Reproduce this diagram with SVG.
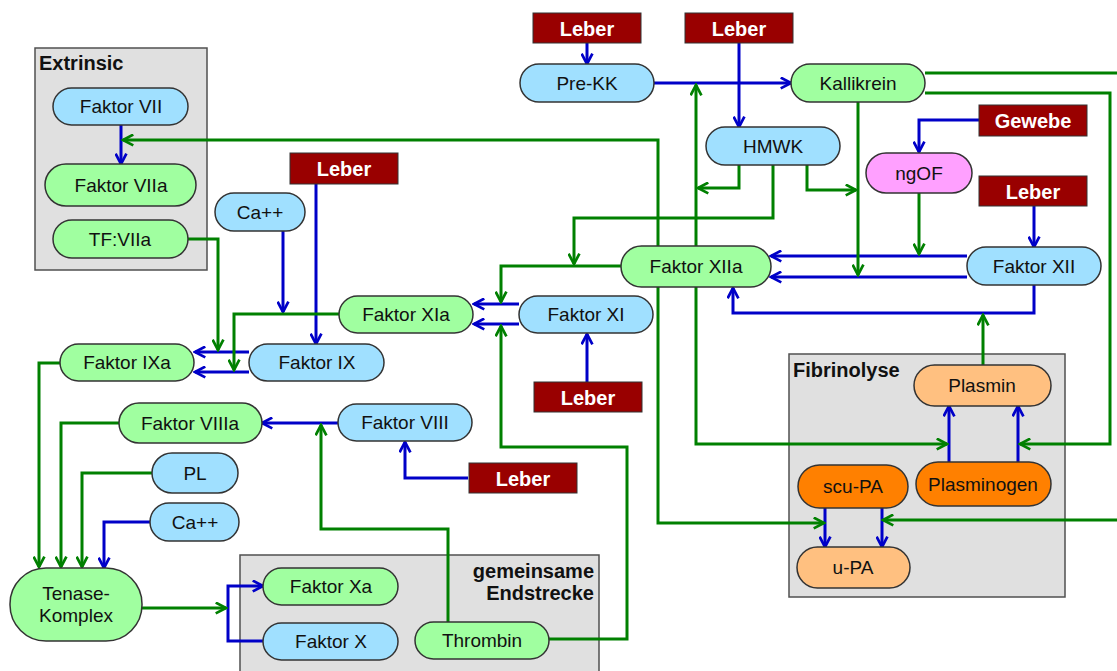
<svg xmlns="http://www.w3.org/2000/svg" width="1117" height="671" viewBox="0 0 1117 671">
<style>
text{font-family:"Liberation Sans",Arial,sans-serif;font-size:19px;fill:#111;text-anchor:middle}
.t{font-weight:bold;font-size:20px;text-anchor:start}
.te{font-weight:bold;font-size:20px;text-anchor:end}
.lb{font-weight:bold;font-size:20px;fill:#fff}
.grp{fill:#e0e0e0;stroke:#505050;stroke-width:1.5}
.n{stroke:#333;stroke-width:1.5}
.b{fill:#a0e0ff}.g{fill:#a0ffa0}.o{fill:#ffc080}.d{fill:#ff8000}.p{fill:#ffa0ff}
.lv{fill:#990000;stroke:#333;stroke-width:1}
.cb{fill:none;stroke:#0000c8;stroke-width:3;marker-end:url(#ab)}
.cg{fill:none;stroke:#008000;stroke-width:3;marker-end:url(#ag)}
.cgn{fill:none;stroke:#008000;stroke-width:3}
</style>
<defs>
<marker id="ab" viewBox="0 0 12 12" refX="10.5" refY="6" markerWidth="13" markerHeight="13" markerUnits="userSpaceOnUse" orient="auto"><path d="M1,1 L10.5,6 L1,11" fill="none" stroke="#0000c8" stroke-width="2.5"/></marker>
<marker id="ag" viewBox="0 0 12 12" refX="10.5" refY="6" markerWidth="13" markerHeight="13" markerUnits="userSpaceOnUse" orient="auto"><path d="M1,1 L10.5,6 L1,11" fill="none" stroke="#008000" stroke-width="2.5"/></marker>
</defs>
<rect width="1117" height="671" fill="#fff"/>
<g id="group-extrinsic"><rect class="grp" x="35" y="48" width="172" height="222"/><text class="t" x="39" y="70">Extrinsic</text></g>
<g id="group-fibrinolyse"><rect class="grp" x="789" y="354" width="276" height="243"/><text class="t" x="793" y="377">Fibrinolyse</text></g>
<g id="group-endstrecke"><rect class="grp" x="240" y="555" width="359" height="130"/><text class="te" x="594" y="578">gemeinsame</text><text class="te" x="594" y="600">Endstrecke</text></g>
<g id="connectors">
<path class="cb" d="M121,125 V164"/>
<path class="cb" d="M587,43 V64"/>
<path class="cb" d="M654,83 H791"/>
<path class="cb" d="M739,43 V127"/>
<path class="cb" d="M979,120 H919 V152"/>
<path class="cb" d="M1034,206 V247"/>
<path class="cb" d="M967,256 H771"/>
<path class="cb" d="M967,277 H771"/>
<path class="cb" d="M1034,285 V313 H733 V288"/>
<path class="cb" d="M519,304 H474"/>
<path class="cb" d="M519,324 H474"/>
<path class="cb" d="M587,382 V334"/>
<path class="cb" d="M283,231 V312"/>
<path class="cb" d="M316,184 V344"/>
<path class="cb" d="M249,352 H195"/>
<path class="cb" d="M249,372 H195"/>
<path class="cb" d="M468,478 H405 V442"/>
<path class="cb" d="M338,423 H262"/>
<path class="cb" d="M150,522 H104 V568"/>
<path class="cb" d="M263,641 H228 V586 H263"/>
<path class="cb" d="M825,508 V547"/>
<path class="cb" d="M882,508 V547"/>
<path class="cb" d="M949,462 V406"/>
<path class="cb" d="M1018,462 V406"/>
<path class="cg" d="M658,266 V140 H123"/>
<path class="cg" d="M658,266 V523 H824"/>
<path class="cg" d="M696,266 V85"/>
<path class="cg" d="M696,266 V444 H947"/>
<path class="cg" d="M739,165 V188 H698"/>
<path class="cg" d="M773,165 V218 H574 V264"/>
<path class="cg" d="M807,165 V190 H856"/>
<path class="cg" d="M858,102 V275"/>
<path class="cgn" d="M925,73 H1117"/>
<path class="cg" d="M925,93 H1110 V444 H1020"/>
<path class="cg" d="M1117,520 H883"/>
<path class="cg" d="M919,193 V254"/>
<path class="cg" d="M983,365 V315"/>
<path class="cg" d="M621,266 H501 V302"/>
<path class="cg" d="M548,639 H627 V447 H501 V326"/>
<path class="cg" d="M448,622 V529 H321 V425"/>
<path class="cg" d="M339,314 H234 V370"/>
<path class="cg" d="M188,239 H218 V350"/>
<path class="cg" d="M60,363 H39 V567"/>
<path class="cg" d="M119,423 H61 V567"/>
<path class="cg" d="M152,473 H82 V567"/>
<path class="cg" d="M142,608 H226"/>
</g>
<g id="faktor-vii"><rect class="n b" x="53" y="88" width="135" height="37" rx="18.5"/><text x="121" y="113">Faktor VII</text></g>
<g id="faktor-viia"><rect class="n g" x="45" y="164" width="151" height="42" rx="21"/><text x="121" y="192">Faktor VIIa</text></g>
<g id="tf-viia"><rect class="n g" x="53" y="220" width="135" height="38" rx="19"/><text x="120" y="246">TF:VIIa</text></g>
<g id="leber-ix"><rect class="lv" x="290" y="153" width="108" height="31"/><text class="lb" x="344" y="176">Leber</text></g>
<g id="ca-1"><rect class="n b" x="215" y="193" width="90" height="38" rx="19"/><text x="260" y="219">Ca++</text></g>
<g id="faktor-xia"><rect class="n g" x="339" y="296" width="134" height="37" rx="18.5"/><text x="406" y="321">Faktor XIa</text></g>
<g id="faktor-xi"><rect class="n b" x="519" y="296" width="134" height="37" rx="18.5"/><text x="586" y="321">Faktor XI</text></g>
<g id="leber-xi"><rect class="lv" x="534" y="382" width="108" height="30"/><text class="lb" x="588" y="405">Leber</text></g>
<g id="faktor-ixa"><rect class="n g" x="60" y="344" width="134" height="37" rx="18.5"/><text x="127" y="369">Faktor IXa</text></g>
<g id="faktor-ix"><rect class="n b" x="249" y="344" width="135" height="37" rx="18.5"/><text x="317" y="369">Faktor IX</text></g>
<g id="faktor-viiia"><rect class="n g" x="119" y="403" width="143" height="40" rx="20"/><text x="190" y="430">Faktor VIIIa</text></g>
<g id="faktor-viii"><rect class="n b" x="338" y="404" width="134" height="37" rx="18.5"/><text x="405" y="429">Faktor VIII</text></g>
<g id="leber-viii"><rect class="lv" x="469" y="463" width="108" height="30"/><text class="lb" x="523" y="486">Leber</text></g>
<g id="pl"><rect class="n b" x="152" y="453" width="86" height="40" rx="20"/><text x="195" y="480">PL</text></g>
<g id="ca-2"><rect class="n b" x="150" y="503" width="89" height="38" rx="19"/><text x="195" y="529">Ca++</text></g>
<g id="tenase"><rect class="n g" x="10" y="568" width="132" height="73" rx="36"/><text x="76" y="600">Tenase-</text><text x="76" y="622">Komplex</text></g>
<g id="faktor-xa"><rect class="n g" x="263" y="568" width="135" height="37" rx="18.5"/><text x="331" y="593">Faktor Xa</text></g>
<g id="faktor-x"><rect class="n b" x="263" y="623" width="135" height="37" rx="18.5"/><text x="331" y="648">Faktor X</text></g>
<g id="thrombin"><rect class="n g" x="415" y="622" width="134" height="37" rx="18.5"/><text x="482" y="647">Thrombin</text></g>
<g id="leber-prekk"><rect class="lv" x="533" y="13" width="108" height="30"/><text class="lb" x="587" y="36">Leber</text></g>
<g id="leber-hmwk"><rect class="lv" x="685" y="13" width="108" height="30"/><text class="lb" x="739" y="36">Leber</text></g>
<g id="pre-kk"><rect class="n b" x="520" y="64" width="134" height="38" rx="19"/><text x="587" y="90">Pre-KK</text></g>
<g id="kallikrein"><rect class="n g" x="791" y="64" width="134" height="38" rx="19"/><text x="858" y="90">Kallikrein</text></g>
<g id="hmwk"><rect class="n b" x="706" y="127" width="134" height="38" rx="19"/><text x="773" y="153">HMWK</text></g>
<g id="gewebe"><rect class="lv" x="979" y="105" width="108" height="31"/><text class="lb" x="1033" y="128">Gewebe</text></g>
<g id="ngof"><rect class="n p" x="866" y="153" width="106" height="40" rx="20"/><text x="919" y="180">ngOF</text></g>
<g id="leber-xii"><rect class="lv" x="979" y="176" width="108" height="30"/><text class="lb" x="1033" y="199">Leber</text></g>
<g id="faktor-xiia"><rect class="n g" x="621" y="246" width="150" height="41" rx="20.5"/><text x="696" y="273">Faktor XIIa</text></g>
<g id="faktor-xii"><rect class="n b" x="967" y="247" width="134" height="38" rx="19"/><text x="1034" y="273">Faktor XII</text></g>
<g id="plasmin"><rect class="n o" x="914" y="365" width="137" height="41" rx="20.5"/><text x="982" y="392">Plasmin</text></g>
<g id="plasminogen"><rect class="n d" x="916" y="462" width="135" height="44" rx="22"/><text x="983" y="491">Plasminogen</text></g>
<g id="scu-pa"><rect class="n d" x="798" y="465" width="110" height="43" rx="21.5"/><text x="853" y="493">scu-PA</text></g>
<g id="u-pa"><rect class="n o" x="797" y="547" width="113" height="41" rx="20.5"/><text x="853" y="574">u-PA</text></g>
</svg>
